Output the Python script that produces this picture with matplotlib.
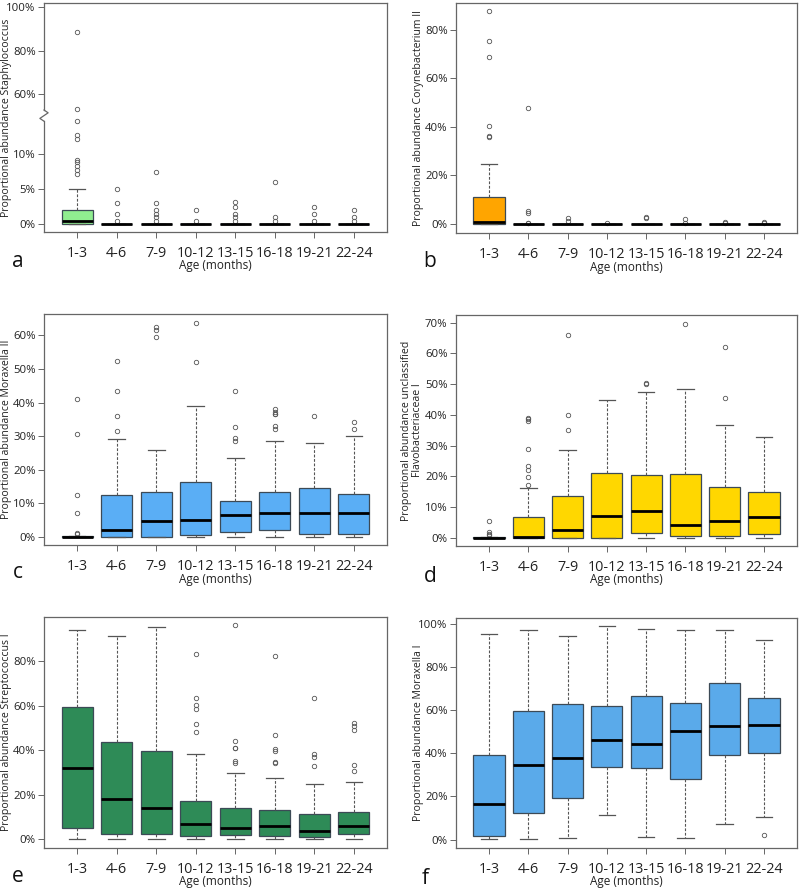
import matplotlib
matplotlib.use("Agg")
import matplotlib.pyplot as plt
import numpy as np

plt.rcParams["font.family"] = ["Open Sans", "DejaVu Sans"]

AGES = ["1-3", "4-6", "7-9", "10-12", "13-15", "16-18", "19-21", "22-24"]

# a: Staphylococcus (broken y axis)
A_Q1 = [0.0, 0, 0, 0, 0, 0, 0, 0]
A_MED = [0.5, 0, 0, 0, 0, 0, 0, 0]
A_Q3 = [2.0, 0, 0, 0, 0, 0, 0, 0]
A_LO = [0.0, 0, 0, 0, 0, 0, 0, 0]
A_HI = [5.0, 0, 0, 0, 0, 0, 0, 0]
A_FLIERS = [
    [88.5, 53.0, 14.7, 12.7, 12.1, 9.2, 8.8, 8.3, 7.7, 7.1],
    [5.0, 3.0, 1.5, 0.5],
    [7.5, 3.0, 2.0, 1.5, 1.0, 0.5],
    [2.0, 0.5],
    [3.1, 2.5, 1.5, 1.0, 0.5],
    [6.0, 1.0, 0.5],
    [2.5, 1.5, 0.5],
    [2.0, 1.0, 0.5],
]

# b: Corynebacterium II
B_Q1 = [0.0, 0, 0, 0, 0, 0, 0, 0]
B_MED = [0.8, 0, 0, 0, 0, 0, 0, 0]
B_Q3 = [11.1, 0, 0, 0, 0, 0, 0, 0]
B_LO = [0.0, 0, 0, 0, 0, 0, 0, 0]
B_HI = [24.5, 0, 0, 0, 0, 0, 0, 0]
B_FLIERS = [
    [87.5, 75.3, 68.7, 40.5, 36.4, 35.6],
    [47.8, 5.5, 4.6, 0.6, 0.4],
    [2.3, 1.2],
    [0.4],
    [2.7, 2.4],
    [2.1, 0.6],
    [0.9, 0.5],
    [0.9, 0.5],
]

# c: Moraxella II
C_Q1 = [0.0, 0.0, 0.0, 0.5, 1.4, 2.0, 0.7, 0.9]
C_MED = [0.0, 2.0, 4.7, 5.0, 6.3, 7.0, 7.0, 7.0]
C_Q3 = [0.2, 12.4, 13.4, 16.4, 10.7, 13.4, 14.5, 12.6]
C_LO = [0.0, 0, 0, 0, 0, 0, 0, 0]
C_HI = [0.2, 29.0, 25.9, 39.1, 23.4, 28.4, 28.0, 30.0]
C_FLIERS = [
    [41.0, 30.5, 12.5, 7.1, 1.1, 0.7],
    [52.5, 43.5, 36.1, 31.5],
    [62.6, 61.6, 59.6],
    [63.7, 52.2],
    [43.5, 32.6, 29.3, 28.6],
    [38.0, 37.2, 36.7, 36.5, 33.0, 32.0],
    [36.0],
    [34.2, 32.1],
]

# d: unclassified Flavobacteriaceae I
D_Q1 = [0.0, 0.0, 0.0, 0.0, 1.6, 0.5, 0.7, 1.1]
D_MED = [0.0, 0.2, 2.4, 7.1, 8.6, 4.0, 5.5, 6.6]
D_Q3 = [0.2, 6.7, 13.5, 21.2, 20.3, 20.7, 16.4, 14.8]
D_LO = [0.0, 0, 0, 0, 0, 0, 0, 0]
D_HI = [0.2, 16.1, 28.7, 44.9, 47.5, 48.5, 36.8, 32.7]
D_FLIERS = [
    [5.4, 2.0, 1.2, 0.8],
    [38.9, 38.5, 37.9, 28.8, 23.2, 22.1, 19.7, 17.2],
    [66.1, 39.9, 35.2],
    [],
    [50.3, 50.0],
    [69.7],
    [62.0, 45.4],
    [],
]

# e: Streptococcus I
E_Q1 = [5.0, 2.3, 2.3, 1.2, 1.7, 1.2, 0.8, 2.3]
E_MED = [32.0, 18.2, 13.8, 6.9, 4.8, 5.7, 3.5, 5.7]
E_Q3 = [59.4, 43.5, 39.6, 17.3, 13.8, 12.9, 11.3, 12.3]
E_LO = [0.0, 0, 0, 0, 0, 0, 0, 0]
E_HI = [94.0, 91.3, 95.5, 38.3, 29.9, 27.5, 24.9, 25.8]
E_FLIERS = [
    [],
    [],
    [],
    [83.3, 63.3, 60.5, 58.7, 51.9, 48.0],
    [96.2, 44.3, 41.1, 40.8, 35.0, 34.2],
    [82.4, 46.7, 40.4, 39.8, 34.8, 34.2],
    [63.3, 38.4, 36.8, 33.0],
    [52.2, 50.9, 49.1, 33.2, 30.8],
]

# f: Moraxella I
F_Q1 = [1.5, 12.5, 19.4, 33.5, 33.4, 28.0, 39.1, 40.3]
F_MED = [16.6, 34.6, 37.7, 46.2, 44.3, 50.5, 52.8, 53.2]
F_Q3 = [39.4, 59.4, 62.9, 62.0, 66.3, 63.4, 72.5, 65.4]
F_LO = [0.3, 0.3, 0.8, 11.4, 1.1, 0.8, 7.2, 10.5]
F_HI = [95.2, 97.1, 94.2, 98.8, 97.7, 97.1, 97.1, 92.6]
F_FLIERS = [[], [], [], [], [], [], [], [2.0]]

# broken axis for panel a: values above the gap are compressed
BREAK_LOW = 15.5
BREAK_HIGH = 50.0
UPPER_SCALE = 0.31


def squash(v):
    v = np.asarray(v, dtype=float)
    return np.where(v <= BREAK_LOW, v, BREAK_LOW + (v - BREAK_HIGH) * UPPER_SCALE)


def draw_panel(ax, q1, med, q3, lo, hi, fliers, color, transform=None):
    f = transform if transform is not None else (lambda v: np.asarray(v, dtype=float))
    stats = []
    for i in range(len(AGES)):
        stats.append({
            "q1": float(f(q1[i])), "med": float(f(med[i])), "q3": float(f(q3[i])),
            "whislo": float(f(lo[i])), "whishi": float(f(hi[i])),
            "fliers": f(fliers[i]) if fliers[i] else np.array([]),
        })
    positions = np.arange(1, len(AGES) + 1)
    ax.bxp(
        stats, positions=positions, widths=0.79, capwidths=0.42,
        patch_artist=True, showfliers=True,
        boxprops=dict(facecolor=color, edgecolor="#3c4a56", linewidth=0.9),
        medianprops=dict(color="black", linewidth=2.0),
        whiskerprops=dict(color="#555555", linewidth=0.8, linestyle=(0, (2.5, 1.5))),
        capprops=dict(color="#555555", linewidth=0.9),
        flierprops=dict(marker="o", markersize=3.2, markerfacecolor="none",
                        markeredgecolor="#555555", markeredgewidth=0.6),
    )
    ax.set_xticks(positions)
    ax.set_xticklabels(AGES, fontsize=10.4, color="#222222")
    for s in ax.spines.values():
        s.set_color("#666666")
        s.set_linewidth(0.9)
    ax.tick_params(axis="both", length=4, width=0.7, color="#666666")
    ax.tick_params(axis="x", pad=6)
    ax.tick_params(axis="y", labelsize=8.2, labelcolor="#222222", pad=2)
    ax.set_xlabel("Age (months)", fontsize=8.5, labelpad=-1, color="#222222")


def pct_ticks(ax, ticks):
    ax.set_yticks(ticks)
    ax.set_yticklabels([f"{t}%" for t in ticks])


W, H = 800, 890
fig = plt.figure(figsize=(W / 100, H / 100), dpi=100)


def add_axes(left, top, right, bottom):
    return fig.add_axes([left / W, 1 - bottom / H, (right - left) / W, (bottom - top) / H])


ax_a = add_axes(44, 3, 387, 232)
ax_b = add_axes(456, 3, 797, 233)
ax_c = add_axes(44, 314, 387, 545)
ax_d = add_axes(456, 315, 797, 546)
ax_e = add_axes(44, 617, 387, 848)
ax_f = add_axes(456, 618, 797, 848)

YLABEL_SIZE = 7.6

# a
draw_panel(ax_a, A_Q1, A_MED, A_Q3, A_LO, A_HI, A_FLIERS, "#90ee90", transform=squash)
ax_a.set_ylim(-1.14, 31.6)
a_ticks = [0, 5, 10, 60, 80, 100]
ax_a.set_yticks(squash(a_ticks))
ax_a.set_yticklabels([f"{t}%" for t in a_ticks])
ax_a.spines["left"].set_visible(False)
spine_kw = dict(color="#666666", linewidth=0.9, clip_on=False,
                transform=ax_a.get_yaxis_transform())
ax_a.plot([0, 0], [-1.14, BREAK_LOW - 0.8], **spine_kw)
ax_a.plot([0, 0], [BREAK_LOW + 0.8, 31.6], **spine_kw)
ax_a.plot([0, 0.012, -0.012, 0],
          [BREAK_LOW + 0.8, BREAK_LOW + 0.4, BREAK_LOW - 0.4, BREAK_LOW - 0.8], **spine_kw)
ax_a.set_ylabel("Proportional abundance Staphylococcus", fontsize=YLABEL_SIZE, color="#222222")

# b
draw_panel(ax_b, B_Q1, B_MED, B_Q3, B_LO, B_HI, B_FLIERS, "#ffa500")
ax_b.set_ylim(-3.7, 90.9)
pct_ticks(ax_b, [0, 20, 40, 60, 80])
ax_b.set_ylabel("Proportional abundance Corynebacterium II", fontsize=YLABEL_SIZE, color="#222222")

# c
draw_panel(ax_c, C_Q1, C_MED, C_Q3, C_LO, C_HI, C_FLIERS, "#5aaef5")
ax_c.set_ylim(-2.5, 66.4)
pct_ticks(ax_c, [0, 10, 20, 30, 40, 50, 60])
ax_c.set_ylabel("Proportional abundance Moraxella II", fontsize=YLABEL_SIZE, color="#222222")

# d
draw_panel(ax_d, D_Q1, D_MED, D_Q3, D_LO, D_HI, D_FLIERS, "#ffd700")
ax_d.set_ylim(-2.7, 72.5)
pct_ticks(ax_d, [0, 10, 20, 30, 40, 50, 60, 70])
ax_d.set_ylabel("Proportional abundance unclassified\nFlavobacteriaceae I",
                fontsize=YLABEL_SIZE, color="#222222", linespacing=0.95)

# e
draw_panel(ax_e, E_Q1, E_MED, E_Q3, E_LO, E_HI, E_FLIERS, "#2e8b57")
ax_e.set_ylim(-4.05, 100.0)
pct_ticks(ax_e, [0, 20, 40, 60, 80])
ax_e.set_ylabel("Proportional abundance Streptococcus I", fontsize=YLABEL_SIZE, color="#222222")

# f
draw_panel(ax_f, F_Q1, F_MED, F_Q3, F_LO, F_HI, F_FLIERS, "#5aaaea")
ax_f.set_ylim(-3.85, 102.6)
pct_ticks(ax_f, [0, 20, 40, 60, 80, 100])
ax_f.set_ylabel("Proportional abundance Moraxella I", fontsize=YLABEL_SIZE, color="#222222")

for ax in (ax_a, ax_b, ax_c, ax_d, ax_e, ax_f):
    ax.set_xlim(0.16, 8.84)

for ax, x in ((ax_a, -0.093), (ax_c, -0.093), (ax_e, -0.093),
              (ax_b, -0.095), (ax_d, -0.098), (ax_f, -0.095)):
    ax.yaxis.set_label_coords(x, 0.5)

for letter, x, y in (("a", 18, 262), ("b", 430, 262), ("c", 18, 572),
                     ("d", 430, 577), ("e", 18, 877), ("f", 425, 878)):
    fig.text(x / W, 1 - y / H, letter, fontsize=15, ha="center", va="center", color="#111111")

fig.savefig("out.png", dpi=100)
